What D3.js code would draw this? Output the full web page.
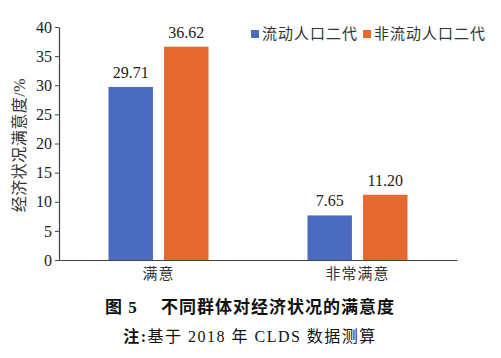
<!DOCTYPE html>
<html><head><meta charset="utf-8">
<script src="https://cdn.jsdelivr.net/npm/d3@7"></script>
<style>body{margin:0;background:#fff}svg{display:block}</style>
</head><body>
<script>
const categories = ["满意", "非常满意"];
const seriesNames = ["流动人口二代", "非流动人口二代"];
const migrant = [29.71, 7.65];
const nonMigrant = [36.62, 11.20];
const yTicks = [0, 5, 10, 15, 20, 25, 30, 35, 40];
const colors = ["#4a6bbf", "#e5692f"];

const W = 501, H = 358;
const NUM = '"Liberation Serif"';
const MIX = '"Liberation Serif", "Noto Sans CJK SC"';
const svg = d3.select("body").append("svg").attr("width", W).attr("height", H);

const x0 = d3.scaleBand().domain(categories).range([59, 457]);
const x1 = d3.scaleBand().domain(seriesNames).range([-50, 50]).paddingInner(0.2);
const y = d3.scaleLinear().domain([0, 40]).range([260, 27]);

// y axis
const ya = svg.append("g").attr("transform", "translate(59,0)")
  .call(d3.axisLeft(y).tickValues(yTicks).tickSize(4).tickSizeOuter(0));
ya.attr("font-family", null).attr("font-size", null);
ya.select(".domain").attr("stroke", "#404040").attr("stroke-width", 1.2);
ya.selectAll(".tick line").attr("stroke", "#404040");
ya.selectAll(".tick text").style("font-family", NUM).style("font-size", "16px").attr("fill", "#222").attr("x", -7);

// bars
const data = categories.map((c, i) => ({cat: c, vals: [migrant[i], nonMigrant[i]]}));
const g = svg.append("g");
data.forEach(d => {
  d.vals.forEach((v, j) => {
    const cx = x0(d.cat) + x0.bandwidth() / 2 + x1(seriesNames[j]);
    g.append("rect").attr("x", cx).attr("y", y(v)).attr("width", x1.bandwidth())
      .attr("height", y(0) - y(v)).attr("fill", colors[j]);
    g.append("text").attr("x", cx + x1.bandwidth() / 2).attr("y", y(v) - 9)
      .attr("text-anchor", "middle").style("font-family", NUM).style("font-size", "16px")
      .attr("fill", "#222").text(v.toFixed(2));
  });
});

// x axis
const xa = svg.append("g").attr("transform", "translate(0,260)")
  .call(d3.axisBottom(x0).tickSize(0).tickSizeOuter(0));
xa.attr("font-family", null).attr("font-size", null);
xa.select(".domain").attr("stroke", "#404040").attr("stroke-width", 1.2);
xa.selectAll(".tick text").style("font-family", MIX).style("font-size", "15px").attr("fill", "#333").attr("dy", "1.05em").style("letter-spacing", "1px");

// y title
svg.append("text").attr("transform", "translate(25,145) rotate(-90)")
  .attr("text-anchor", "middle").style("font-family", MIX).style("font-size", "16px").style("letter-spacing", "0.5px")
  .attr("fill", "#333").text("经济状况满意度/%");

// legend
const legX = [251, 363];
seriesNames.forEach((s, j) => {
  svg.append("rect").attr("x", legX[j]).attr("y", 30).attr("width", 8).attr("height", 8).attr("fill", colors[j]);
  svg.append("text").attr("x", legX[j] + 11).attr("y", 39).style("font-family", MIX)
    .style("font-size", "15px").style("letter-spacing", "1px").attr("fill", "#333").text(s);
});

// caption
svg.append("text").attr("x", 250).attr("y", 313).attr("text-anchor", "middle")
  .style("font-family", MIX).style("font-size", "17px").style("font-weight", "bold").attr("fill", "#111")
  .style("letter-spacing", "1px").style("white-space", "pre").text("图 5　 不同群体对经济状况的满意度");
const note = svg.append("text").attr("x", 250).attr("y", 342).attr("text-anchor", "middle")
  .style("font-family", MIX).style("font-size", "16px").attr("fill", "#111")
  .style("letter-spacing", "1.5px").style("white-space", "pre");
note.append("tspan").style("font-weight", "bold").text("注:");
note.append("tspan").text("基于 2018 年 CLDS 数据测算");
</script>
</body></html>
